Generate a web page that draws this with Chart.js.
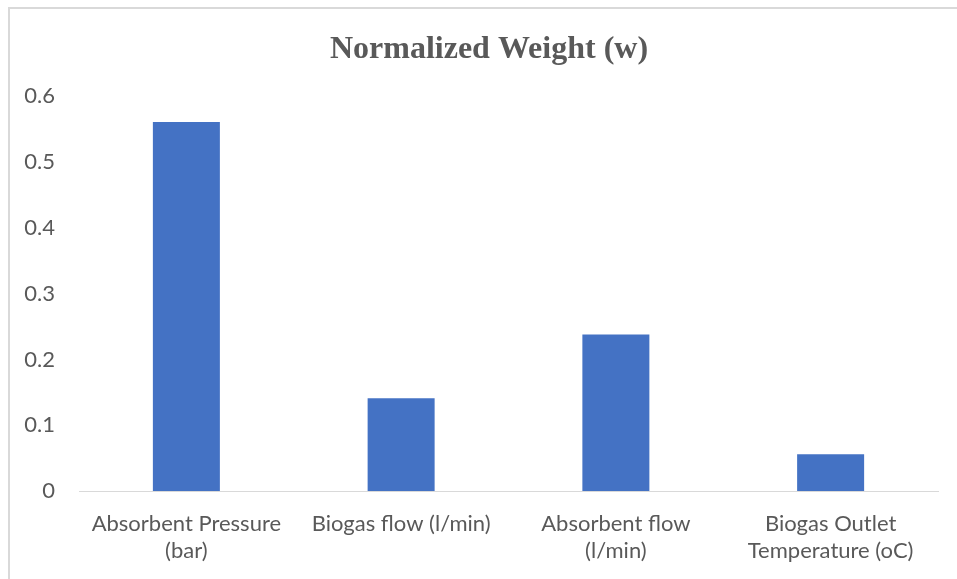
<!DOCTYPE html>
<html>
<head>
<meta charset="utf-8">
<script src="https://cdn.jsdelivr.net/npm/chart.js@4"></script>
<style>
  html, body { margin: 0; padding: 0; background: #ffffff; }
  #wrap { position: relative; width: 957px; height: 579px; }
  #frame {
    position: absolute; left: 8px; top: 7px; right: 0; bottom: 0;
    border-left: 2px solid #d9d9d9; border-top: 2px solid #d9d9d9;
    pointer-events: none;
  }
  canvas { position: absolute; left: 0; top: 0; }
</style>
</head>
<body>
<div id="wrap">
  <div id="frame"></div>
  <canvas id="chart" width="957" height="579"></canvas>
</div>
<script>
// Criteria and their normalized weights
const categories = [
  ['Absorbent Pressure', '(bar)'],
  ['Biogas flow (l/min)'],
  ['Absorbent flow', '(l/min)'],
  ['Biogas Outlet', 'Temperature (oC)']
];
const weights = [0.561, 0.141, 0.238, 0.056];
const yTicks = [0, 0.1, 0.2, 0.3, 0.4, 0.5, 0.6];

const labelFont = { family: 'Lato, "Open Sans", sans-serif', size: 22 };
const textColor = '#595959';

// Centre the title over the span from the frame's inner edge to the plot's right edge
const titleSpan = {
  id: 'titleSpan',
  afterLayout(chart) {
    if (chart.titleBlock) chart.titleBlock.left = 40;
  }
};

new Chart(document.getElementById('chart'), {
  type: 'bar',
  data: {
    labels: categories,
    datasets: [{
      label: 'Normalized Weight (w)',
      data: weights,
      backgroundColor: '#4472c4',
      borderWidth: 0,
      categoryPercentage: 1,
      barPercentage: 0.312
    }]
  },
  plugins: [titleSpan],
  options: {
    responsive: false,
    animation: false,
    layout: { padding: { left: 20, right: 19, top: 0, bottom: 0 } },
    plugins: {
      legend: { display: false },
      tooltip: { enabled: false },
      title: {
        display: true,
        text: 'Normalized Weight (w)',
        color: textColor,
        font: { family: '"Liberation Serif", "Times New Roman", serif', size: 32, weight: 'bold' },
        padding: { top: 31, bottom: 27 }
      }
    },
    scales: {
      x: {
        afterFit: (scale) => { scale.height = 88; },
        grid: { display: false, drawTicks: false },
        border: { display: true, color: '#d9d9d9', width: 1 },
        ticks: {
          color: textColor,
          font: { ...labelFont, lineHeight: 1.23 },
          padding: 19,
          maxRotation: 0,
          autoSkip: false
        }
      },
      y: {
        min: yTicks[0],
        max: yTicks[yTicks.length - 1],
        afterBuildTicks: (scale) => { scale.ticks = yTicks.map(v => ({ value: v })); },
        afterFit: (scale) => { scale.width = 59; },
        grid: { display: false, drawTicks: false },
        border: { display: false },
        ticks: {
          color: textColor,
          font: labelFont,
          padding: 24,
          callback: (v) => (v === 0 ? '0' : Number(v).toFixed(1))
        }
      }
    }
  }
});
</script>
</body>
</html>
